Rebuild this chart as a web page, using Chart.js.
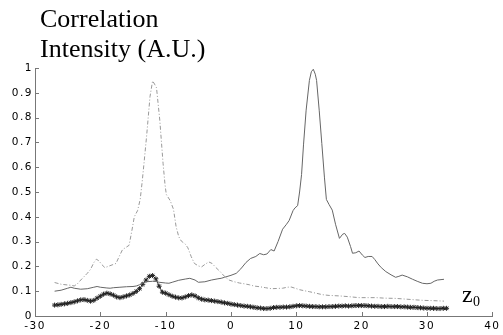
<!DOCTYPE html>
<html>
<head>
<meta charset="utf-8">
<script src="https://cdn.jsdelivr.net/npm/chart.js@4"></script>
<style>
html,body{margin:0;padding:0;background:#fff;}
canvas{display:block;}
</style>
</head>
<body>
<canvas id="c" width="503" height="335"></canvas>
<script>
// ---- data ----
const xTicks = [-30, -20, -10, 0, 10, 20, 30, 40];
const yTicks = [0, 0.1, 0.2, 0.3, 0.4, 0.5, 0.6, 0.7, 0.8, 0.9, 1];

const solidX = [-27,-26,-25,-24.5,-24,-23,-22,-21,-20.5,-20,-19,-18.5,-18,-17,-16,-15,-14.5,-14,-13.5,-13,-12,-11.5,-11,-10,-9.5,-9,-8,-7,-6.3,-5.5,-5,-4,-3,-2,-1.5,-1,0,0.8,1.5,2.3,3,3.8,4.4,5,5.5,6.1,6.6,7.2,7.9,8.5,8.9,9.5,9.8,10.2,10.5,10.8,11.1,11.5,12,12.3,12.6,12.9,13.1,13.5,13.9,14.3,14.6,15,15.5,16,16.6,17.1,17.4,17.8,18.3,18.6,19.1,19.6,20.1,20.5,21,21.6,22,22.5,23,23.7,24.5,25.2,25.7,26.2,27,27.8,28.5,29.3,30,30.6,31.1,31.6,32.6];
const solidY = [0.100,0.104,0.112,0.116,0.112,0.108,0.110,0.116,0.119,0.116,0.113,0.112,0.114,0.116,0.118,0.119,0.121,0.126,0.132,0.138,0.140,0.139,0.136,0.133,0.132,0.136,0.144,0.149,0.152,0.145,0.136,0.138,0.145,0.150,0.152,0.156,0.164,0.172,0.190,0.216,0.232,0.240,0.252,0.247,0.250,0.268,0.262,0.300,0.350,0.370,0.385,0.425,0.436,0.445,0.500,0.570,0.690,0.830,0.950,0.985,0.995,0.975,0.950,0.830,0.696,0.560,0.470,0.450,0.427,0.370,0.313,0.330,0.333,0.318,0.280,0.253,0.255,0.262,0.246,0.236,0.240,0.240,0.228,0.210,0.195,0.179,0.166,0.156,0.160,0.165,0.158,0.148,0.140,0.132,0.130,0.132,0.140,0.145,0.148];

const dashX = [-27,-26,-25,-24.5,-24,-23.5,-23,-22,-21.5,-21,-20.6,-20.2,-19.8,-19.3,-18.8,-18.2,-17.6,-17.2,-16.6,-16,-15.6,-15.2,-14.8,-14.3,-13.9,-13.6,-13.3,-12.9,-12.4,-12.0,-11.7,-11.4,-10.9,-10.4,-10.1,-9.9,-9.3,-8.8,-8.4,-8.0,-7.6,-7.0,-6.6,-6.1,-5.6,-5.0,-4.5,-4.0,-3.4,-2.9,-2.3,-1.7,-1.0,-0.3,0.5,1.3,2,2.8,3.5,4.4,5.3,6.2,7,7.9,8.6,9.2,9.8,10.5,11.2,12,13,14,15,16.6,18,19.6,21,22.2,23.5,25.2,26.8,28.3,29.5,30.8,31.8,32.6];
const dashY = [0.135,0.128,0.125,0.124,0.121,0.130,0.145,0.172,0.188,0.215,0.229,0.222,0.208,0.195,0.200,0.206,0.212,0.235,0.268,0.278,0.285,0.340,0.400,0.425,0.470,0.540,0.620,0.730,0.884,0.948,0.935,0.920,0.790,0.616,0.530,0.490,0.465,0.430,0.360,0.320,0.302,0.290,0.275,0.240,0.212,0.202,0.198,0.208,0.218,0.212,0.195,0.180,0.160,0.145,0.138,0.133,0.130,0.126,0.121,0.118,0.114,0.110,0.111,0.112,0.116,0.117,0.112,0.106,0.102,0.098,0.092,0.086,0.083,0.081,0.078,0.074,0.074,0.074,0.072,0.071,0.068,0.065,0.063,0.062,0.061,0.060];

const starX = [-27,-26.5,-26,-25.5,-25,-24.5,-24,-23.5,-23,-22.5,-22,-21.5,-21,-20.5,-20,-19.5,-19,-18.5,-18,-17.5,-17,-16.5,-16,-15.5,-15,-14.5,-14,-13.5,-13,-12.5,-12,-11.5,-11,-10.5,-10,-9.5,-9,-8.5,-8,-7.5,-7,-6.5,-6,-5.5,-5,-4.5,-4,-3.5,-3,-2.5,-2,-1.5,-1,-0.5,0,0.5,1,1.5,2,2.5,3,3.5,4,4.5,5,5.5,6,6.5,7,7.5,8,8.5,9,9.5,10,10.5,11,11.5,12,12.5,13,13.5,14,14.5,15,15.5,16,16.5,17,17.5,18,18.5,19,19.5,20,20.5,21,21.5,22,22.5,23,23.5,24,24.5,25,25.5,26,26.5,27,27.5,28,28.5,29,29.5,30,30.5,31,31.5,32,32.5,33];
const starY = [0.044,0.045,0.047,0.049,0.051,0.054,0.057,0.061,0.065,0.066,0.063,0.060,0.063,0.072,0.080,0.088,0.092,0.089,0.084,0.077,0.074,0.077,0.081,0.085,0.091,0.099,0.110,0.128,0.145,0.160,0.163,0.150,0.120,0.096,0.092,0.086,0.080,0.076,0.073,0.073,0.077,0.082,0.085,0.081,0.073,0.068,0.065,0.064,0.062,0.060,0.058,0.056,0.053,0.051,0.048,0.046,0.044,0.042,0.040,0.039,0.037,0.035,0.033,0.032,0.030,0.030,0.031,0.034,0.035,0.035,0.036,0.036,0.037,0.039,0.041,0.042,0.041,0.040,0.039,0.038,0.038,0.037,0.037,0.037,0.038,0.038,0.039,0.040,0.040,0.041,0.040,0.041,0.042,0.042,0.042,0.042,0.041,0.040,0.039,0.039,0.038,0.038,0.039,0.038,0.038,0.038,0.037,0.037,0.036,0.035,0.035,0.034,0.033,0.032,0.031,0.031,0.031,0.030,0.030,0.031,0.031];

const titleLines = ['Correlation', 'Intensity (A.U.)'];
const axisLabel = 'z';
const axisLabelSub = '0';

const pts = (xs, ys) => xs.map((x, i) => ({x: x, y: ys[i]}));
const fmt = v => String(Number(Number(v).toFixed(1)));

const extrasPlugin = {
  id: 'extras',
  beforeDraw(chart) {
    chart.ctx.letterSpacing = '1.5px';
  },
  afterDraw(chart) {
    const ctx = chart.ctx;
    const xs = chart.scales.x, ys = chart.scales.y;
    const area = chart.chartArea;
    ctx.save();
    ctx.letterSpacing = '0px';
    ctx.strokeStyle = '#777';
    ctx.lineWidth = 1;
    ctx.beginPath();
    xTicks.forEach(v => {
      const p = Math.round(xs.getPixelForValue(v)) + 0.5;
      ctx.moveTo(p, area.bottom);
      ctx.lineTo(p, area.bottom - 4);
    });
    yTicks.forEach(v => {
      const p = Math.round(ys.getPixelForValue(v)) + 0.5;
      ctx.moveTo(area.left, p);
      ctx.lineTo(area.left + 4, p);
    });
    ctx.stroke();
    ctx.fillStyle = '#000';
    ctx.textBaseline = 'alphabetic';
    ctx.textAlign = 'left';
    ctx.font = '26px "Liberation Serif"';
    ctx.fillText(titleLines[0], 40, 27);
    ctx.fillText(titleLines[1], 40, 57);
    ctx.font = '24px "Liberation Serif"';
    ctx.fillText(axisLabel, 462, 302);
    ctx.font = '14px "Liberation Serif"';
    ctx.fillText(axisLabelSub, 473, 306);
    ctx.restore();
  }
};

new Chart(document.getElementById('c'), {
  type: 'line',
  data: {
    datasets: [
      {
        data: pts(solidX, solidY),
        borderColor: '#666',
        borderWidth: 1,
        pointRadius: 0,
        tension: 0,
        fill: false
      },
      {
        data: pts(dashX, dashY),
        borderColor: '#999',
        borderWidth: 1,
        borderDash: [4, 2, 1, 2],
        pointRadius: 0,
        tension: 0,
        fill: false
      },
      {
        data: pts(starX, starY),
        borderColor: '#333',
        borderWidth: 1,
        pointStyle: 'star',
        pointRadius: 2.5,
        pointBorderColor: '#222',
        pointBorderWidth: 1,
        tension: 0,
        fill: false
      }
    ]
  },
  options: {
    responsive: false,
    animation: false,
    devicePixelRatio: 1,
    layout: { padding: { top: 68, right: 9, left: 0, bottom: 0 } },
    plugins: { legend: { display: false }, tooltip: { enabled: false }, title: { display: false } },
    scales: {
      x: {
        type: 'linear',
        min: -30, max: 40,
        afterBuildTicks: s => { s.ticks = xTicks.map(v => ({value: v})); },
        afterFit: s => { s.height = 19; },
        grid: { display: false, drawTicks: false },
        border: { display: true, color: '#777', width: 1 },
        ticks: { color: '#000', padding: 4, maxRotation: 0, autoSkip: false, callback: fmt, font: { family: 'DejaVu Sans', size: 10.5 } }
      },
      y: {
        type: 'linear',
        min: 0, max: 1,
        afterBuildTicks: s => { s.ticks = yTicks.map(v => ({value: v})); },
        afterFit: s => { s.width = 35; },
        grid: { display: false, drawTicks: false },
        border: { display: true, color: '#777', width: 1 },
        ticks: { color: '#000', padding: 2, autoSkip: false, callback: fmt, font: { family: 'DejaVu Sans', size: 10.5 } }
      }
    }
  },
  plugins: [extrasPlugin]
});
</script>
</body>
</html>
